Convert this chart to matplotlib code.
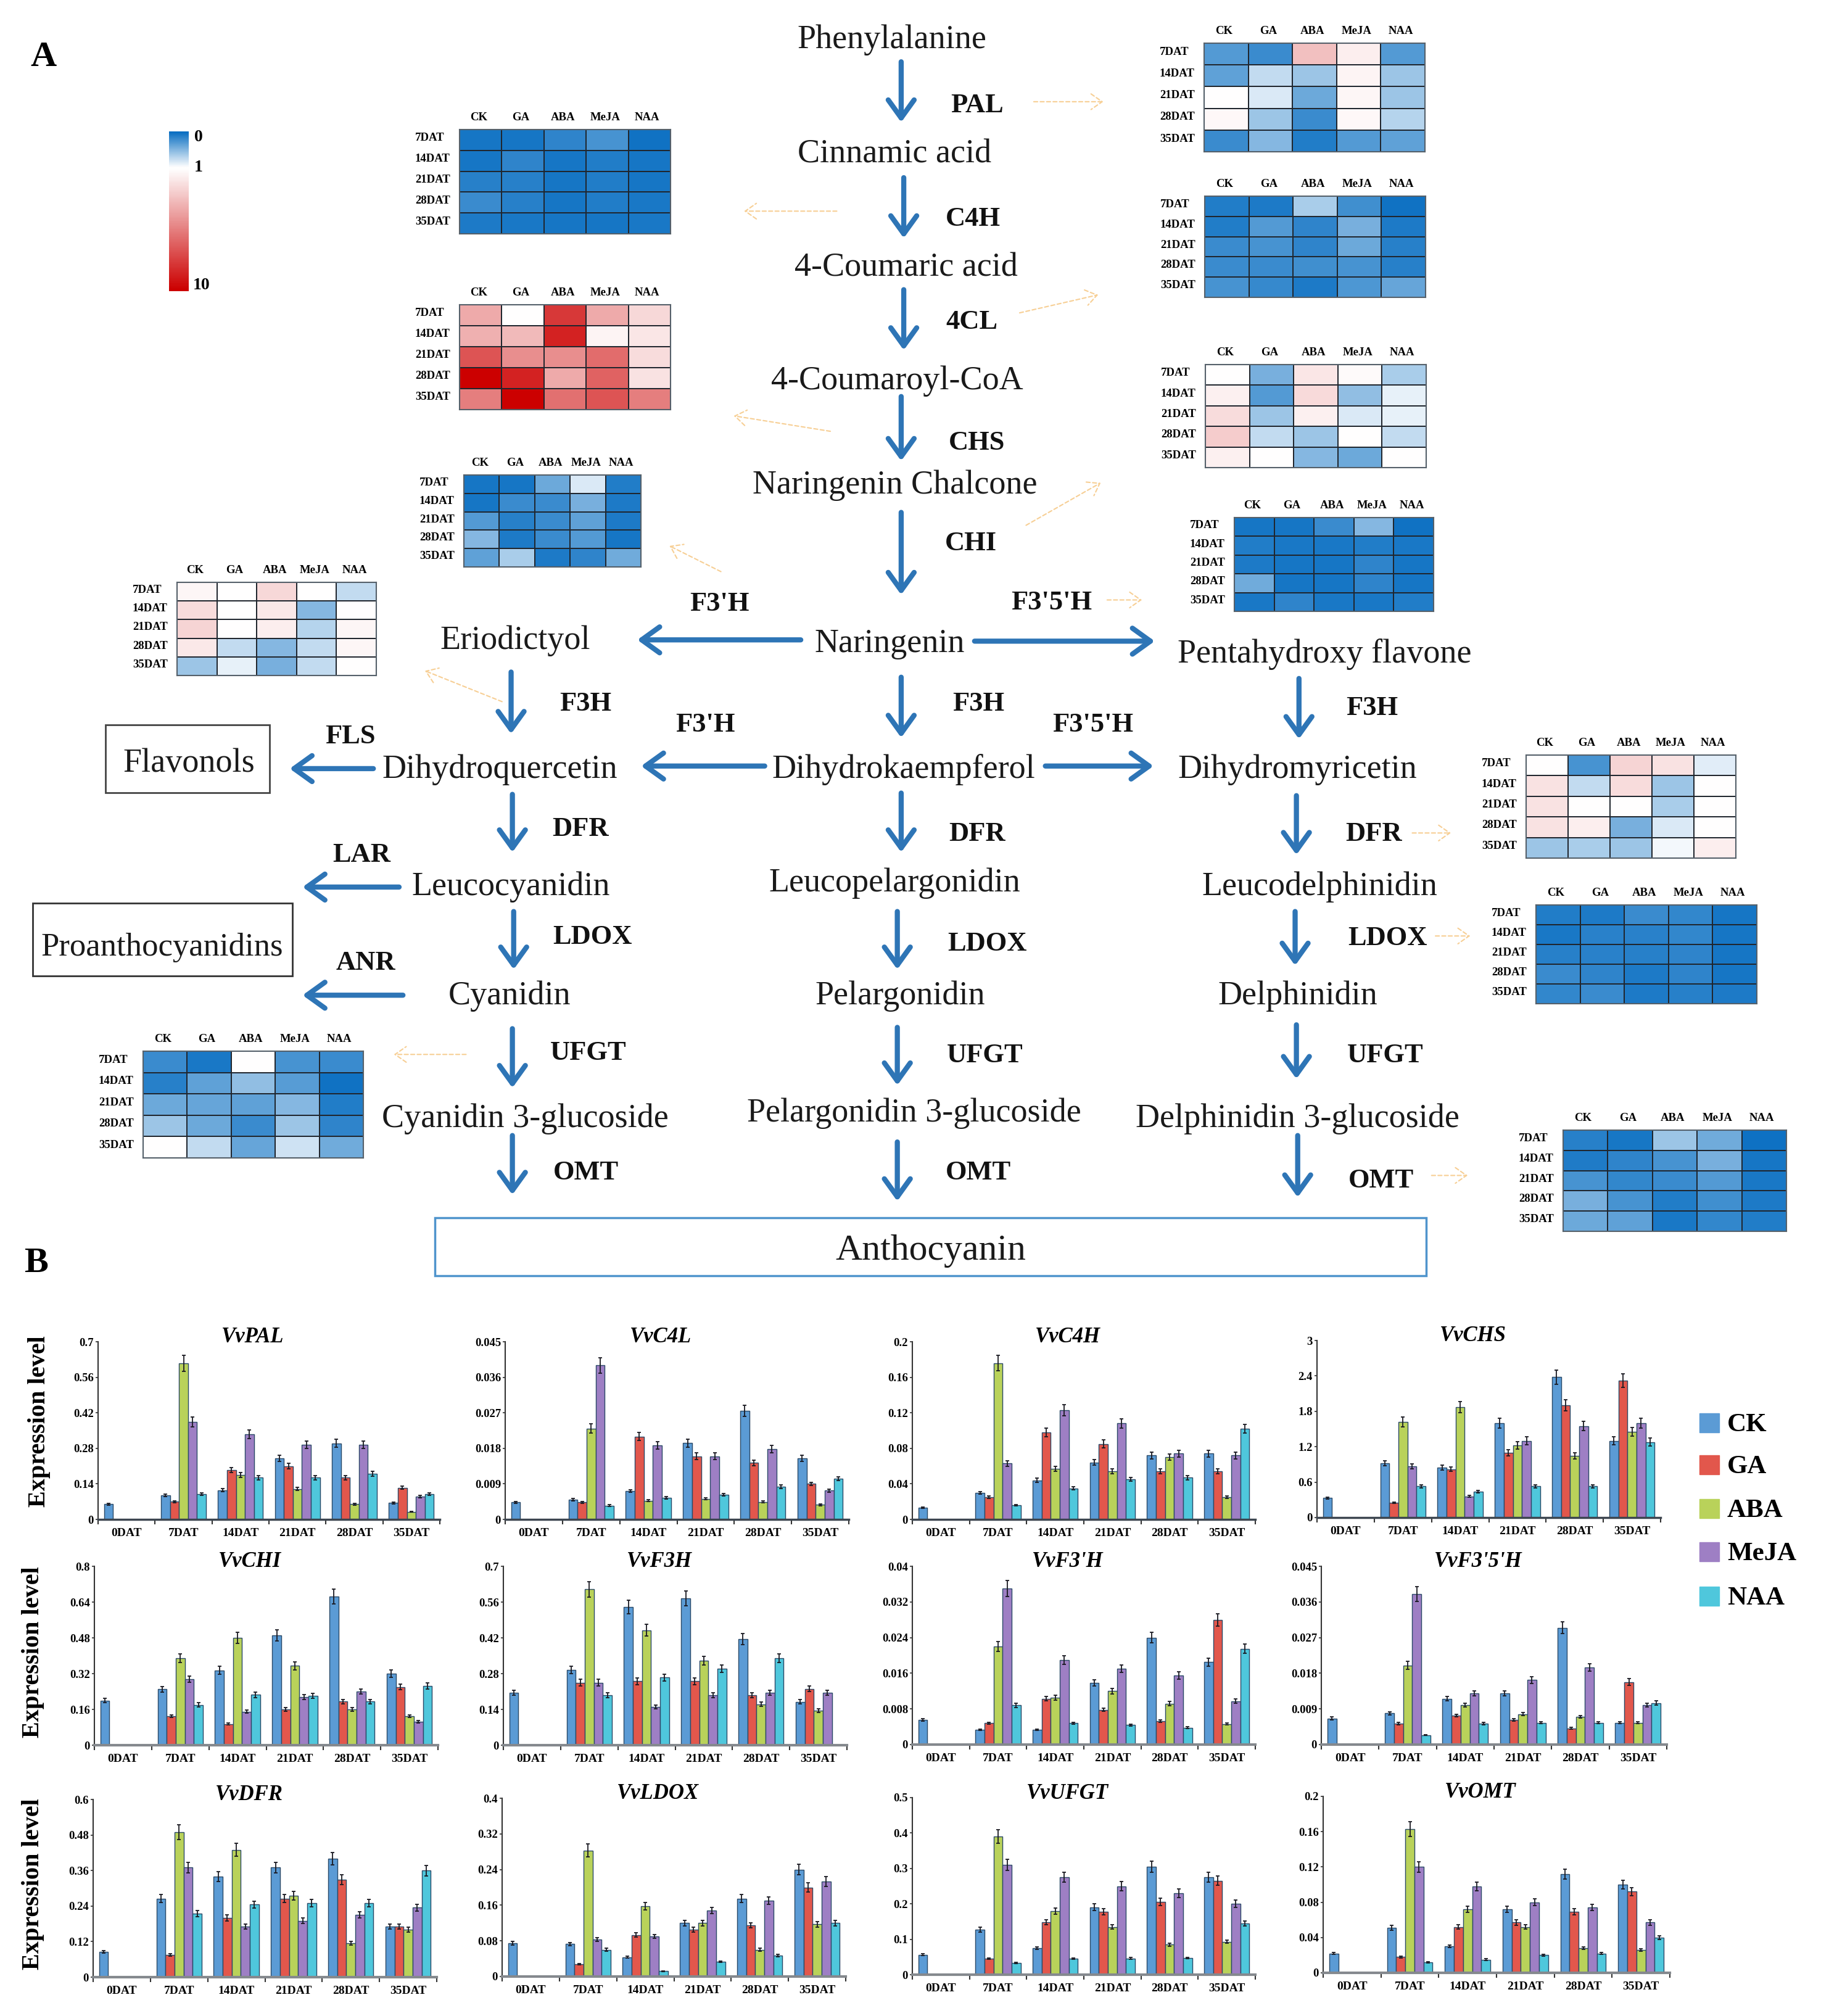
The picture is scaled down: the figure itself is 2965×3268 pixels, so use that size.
import numpy as np
import matplotlib
matplotlib.use('Agg')
import matplotlib.pyplot as plt
from matplotlib.colors import LinearSegmentedColormap, TwoSlopeNorm
from matplotlib.patches import Rectangle

plt.rcParams['font.family'] = ['Liberation Serif', 'DejaVu Serif']

W, H = 2965, 3268
S = 2.087  # layout below was measured on a view scaled by this
TEXT_DY = 4

treatments = ['CK', 'GA', 'ABA', 'MeJA', 'NAA']
days = ['0DAT', '7DAT', '14DAT', '21DAT', '28DAT', '35DAT']
heat_days = ['7DAT', '14DAT', '21DAT', '28DAT', '35DAT']
bar_colors = ['#5b9bd5', '#e2574c', '#b9d25a', '#9e7fc4', '#4fc7dc']

# expression level, one row per day, columns CK GA ABA MeJA NAA
vvpal = [[.06, 0, 0, 0, 0], [.095, .07, .615, .385, .10], [.115, .195, .175, .335, .165],
         [.24, .21, .12, .295, .165], [.30, .165, .06, .295, .18], [.065, .125, .03, .09, .10]]
vvc4l = [[.0043, 0, 0, 0, 0], [.0050, .0043, .023, .039, .0035], [.0072, .0210, .0047, .0188, .0055],
         [.0193, .0160, .0052, .0160, .0063], [.0275, .0143, .0044, .0178, .0083], [.0155, .0090, .0037, .0073, .0103]]
vvc4h = [[.013, 0, 0, 0, 0], [.030, .025, .176, .063, .016], [.044, .098, .057, .123, .035],
         [.064, .085, .054, .108, .045], [.072, .054, .070, .074, .047], [.074, .054, .025, .072, .102]]
vvchs = [[.33, 0, 0, 0, 0], [.92, .25, 1.62, .87, .53], [.85, .82, 1.87, .36, .44],
         [1.60, 1.10, 1.22, 1.30, .53], [2.38, 1.90, 1.05, 1.55, .53], [1.30, 2.32, 1.45, 1.60, 1.28]]
vvchi = [[.20, 0, 0, 0, 0], [.25, .13, .39, .295, .18], [.335, .095, .48, .15, .225],
         [.49, .16, .355, .215, .22], [.665, .195, .16, .24, .195], [.32, .26, .13, .105, .265]]
vvf3h = [[.205, 0, 0, 0, 0], [.295, .245, .61, .245, .195], [.54, .25, .45, .15, .265],
         [.575, .25, .33, .195, .30], [.415, .195, .16, .205, .34], [.17, .22, .135, .205, 0]]
vvf3ph = [[.0055, 0, 0, 0, 0], [.0033, .0048, .022, .035, .0088], [.0033, .0103, .0105, .0190, .0048],
          [.0139, .0078, .0120, .0170, .0044], [.0240, .0053, .0092, .0155, .0038], [.0185, .0280, .0046, .0097, .0215]]
vvf35h = [[.0066, 0, 0, 0, 0], [.0079, .0053, .020, .038, .0024], [.0116, .0073, .0100, .0129, .0053],
          [.0129, .0063, .0077, .0163, .0055], [.0295, .0041, .0070, .0195, .0055], [.0055, .0158, .0055, .0100, .0105]]
vvdfr = [[.085, 0, 0, 0, 0], [.265, .075, .49, .37, .215], [.34, .20, .43, .17, .245],
         [.37, .265, .275, .19, .25], [.40, .33, .115, .21, .25], [.17, .17, .16, .235, .36]]
vvldox = [[.075, 0, 0, 0, 0], [.073, .028, .283, .083, .06], [.043, .093, .158, .09, .012],
          [.12, .105, .12, .148, .033], [.175, .115, .06, .17, .047], [.24, .20, .117, .213, .12]]
vvufgt = [[.056, 0, 0, 0, 0], [.127, .045, .39, .31, .033], [.075, .148, .18, .275, .045],
          [.19, .178, .135, .25, .046], [.305, .205, .085, .23, .047], [.275, .265, .093, .20, .145]]
vvomt = [[.022, 0, 0, 0, 0], [.051, .018, .163, .12, .012], [.03, .052, .072, .098, .015],
         [.072, .057, .052, .08, .02], [.112, .069, .028, .074, .022], [.10, .092, .026, .057, .04]]

gene_names = ['VvPAL', 'VvC4L', 'VvC4H', 'VvCHS', 'VvCHI', 'VvF3H', "VvF3'H", "VvF3'5'H",
              'VvDFR', 'VvLDOX', 'VvUFGT', 'VvOMT']
gene_values = [vvpal, vvc4l, vvc4h, vvchs, vvchi, vvf3h, vvf3ph, vvf35h, vvdfr, vvldox, vvufgt, vvomt]
gene_ticks = [['0', '0.14', '0.28', '0.42', '0.56', '0.7'], ['0', '0.009', '0.018', '0.027', '0.036', '0.045'],
              ['0', '0.04', '0.08', '0.12', '0.16', '0.2'], ['0', '0.6', '1.2', '1.8', '2.4', '3'],
              ['0', '0.16', '0.32', '0.48', '0.64', '0.8'], ['0', '0.14', '0.28', '0.42', '0.56', '0.7'],
              ['0', '0.008', '0.016', '0.024', '0.032', '0.04'], ['0', '0.009', '0.018', '0.027', '0.036', '0.045'],
              ['0', '0.12', '0.24', '0.36', '0.48', '0.6'], ['0', '0.08', '0.16', '0.24', '0.32', '0.4'],
              ['0', '0.1', '0.2', '0.3', '0.4', '0.5'], ['0', '0.04', '0.08', '0.12', '0.16', '0.2']]
err_frac = 0.05

# pixel boxes of the bar panels: left, right, top tick, zero line
panel_boxes = [(159, 713, 2175, 2463), (819, 1376, 2175, 2463), (1479, 2035, 2175, 2463), (2135, 2692, 2173, 2460),
               (153, 710, 2539, 2829), (816, 1373, 2539, 2829), (1479, 2035, 2539, 2828), (2142, 2702, 2539, 2828),
               (151, 708, 2917, 3205), (814, 1371, 2915, 3204), (1479, 2035, 2914, 3201), (2145, 2707, 2912, 3198)]

# heat maps, fold change, rows 7..35DAT, columns CK GA ABA MeJA NAA
hm_c4h = [[.05, .05, .15, .25, .03], [.05, .15, .05, .10, .05], [.12, .12, .05, .10, .05],
          [.2, .12, .05, .10, .07], [.08, .07, .05, .05, .07]]
hm_chs = [[4, 1, 8, 4, 2.4], [3.8, 3.4, 8.8, 1.4, 1.9], [7, 5, 5, 6.2, 2.2],
          [10, 8.8, 4, 6.5, 2], [5.5, 10, 6, 7, 5.5]]
hm_f3ph = [[.05, .05, .4, .85, .1], [.05, .2, .2, .45, .08], [.3, .12, .2, .35, .08],
           [.5, .08, .2, .3, .05], [.35, .65, .08, .15, .42]]
hm_f3h = [[1.3, 1, 2.4, 1, .75], [2.2, 1, 1.8, .5, 1], [2.5, 1, 1.6, .7, 1.3],
          [1.8, .75, .5, .75, 1.3], [.6, .9, .45, .75, 1]]
hm_pal = [[.3, .2, 3.2, 1.6, .3], [.35, .75, .6, 1.4, .6], [1, .85, .4, 1.3, .6],
          [1.25, .6, .2, 1.25, .7], [.2, .5, .1, .3, .35]]
hm_4cl = [[.1, .08, .65, .22, .03], [.1, .3, .15, .45, .08], [.2, .25, .15, .4, .12],
          [.2, .2, .22, .25, .12], [.25, .18, .08, .28, .38]]
hm_chi = [[1, .45, 1.9, 1.2, .65], [1.5, .3, 2.3, .55, .9], [2.2, .6, 1.5, .85, .9],
          [2.8, .75, .6, 1, .75], [1.5, 1, .5, .4, 1]]
hm_f35h = [[.05, .05, .2, .5, .03], [.1, .07, .07, .1, .07], [.08, .05, .05, .15, .05],
           [.42, .05, .05, .15, .05], [.07, .15, .07, .07, .1]]
hm_dfr = [[1, .25, 2.5, 2, .88], [2, .75, 2.2, .6, 1], [2, 1, 1, .65, 1],
          [2, 1.6, .45, .85, 1], [.6, .65, .6, .95, 1.6]]
hm_ldox = [[.1, .08, .2, .17, .05], [.07, .13, .13, .17, .05], [.12, .13, .12, .15, .05],
           [.2, .15, .08, .15, .05], [.17, .2, .08, .12, .08]]
hm_omt = [[.12, .06, .6, .42, .02], [.09, .15, .25, .45, .05], [.25, .17, .2, .3, .07],
          [.45, .25, .1, .22, .08], [.4, .35, .07, .17, .1]]
hm_ufgt = [[.2, .07, 1, .25, .2], [.12, .35, .55, .32, .03], [.4, .38, .35, .5, .1],
           [.6, .4, .2, .6, .15], [1, .75, .38, .8, .42]]
heat_values = [hm_c4h, hm_chs, hm_f3ph, hm_f3h, hm_pal, hm_4cl, hm_chi, hm_f35h, hm_dfr, hm_ldox, hm_omt, hm_ufgt]
heat_boxes = [(745, 1087, 210, 379), (745, 1087, 494, 664), (752, 1039, 770, 919), (287, 610, 944, 1095),
              (1952, 2310, 70, 246), (1953, 2311, 318, 482), (1954, 2312, 591, 758), (2001, 2324, 839, 991),
              (2474, 2814, 1224, 1391), (2490, 2848, 1467, 1627), (2534, 2896, 1832, 1996), (232, 589, 1704, 1877)]

metabolites = ['Phenylalanine', 'Cinnamic acid', '4-Coumaric acid', '4-Coumaroyl-CoA', 'Naringenin Chalcone',
               'Naringenin', 'Eriodictyol', 'Pentahydroxy flavone', 'Dihydroquercetin', 'Dihydrokaempferol',
               'Dihydromyricetin', 'Leucocyanidin', 'Leucopelargonidin', 'Leucodelphinidin', 'Cyanidin',
               'Pelargonidin', 'Delphinidin', 'Cyanidin 3-glucoside', 'Pelargonidin 3-glucoside',
               'Delphinidin 3-glucoside', 'Anthocyanin', 'Flavonols', 'Proanthocyanidins']
metabolite_xy = [(693, 29), (695, 118), (704, 206), (697, 294), (695, 375), (691, 498), (400, 496), (1029, 506),
                 (388, 596), (702, 596), (1008, 596), (397, 687), (695, 684), (1025, 687), (396, 772), (699, 772),
                 (1008, 772), (408, 867), (710, 863), (1008, 867), (723, 970), (147, 591), (126, 734)]
metabolite_size = {'Anthocyanin': 43, 'Proanthocyanidins': 38}
enzymes = ['PAL', 'C4H', '4CL', 'CHS', 'CHI', "F3'H", "F3'5'H", 'F3H', 'F3H', 'F3H', 'FLS', "F3'H", "F3'5'H",
           'DFR', 'DFR', 'DFR', 'LAR', 'LDOX', 'LDOX', 'LDOX', 'ANR', 'UFGT', 'UFGT', 'UFGT', 'OMT', 'OMT', 'OMT']
enzyme_xy = [(759, 80), (756, 168), (755, 248), (759, 342), (754, 420), (559, 467), (817, 466), (455, 545), (760, 545),
             (1066, 548), (272, 570), (548, 561), (849, 561), (451, 642), (759, 646), (1067, 646), (281, 662), (460, 726),
             (767, 731), (1078, 727), (284, 746), (457, 816), (765, 818), (1076, 818), (455, 909), (760, 909), (1073, 915)]
blue_arrows = [((700, 48), (700, 95)), ((702, 138), (702, 185)), ((702, 225), (702, 272)), ((700, 308), (700, 358)),
               ((700, 398), (700, 462)), ((700, 526), (700, 573)), ((397, 522), (397, 570)), ((1009, 527), (1009, 574)),
               ((398, 617), (398, 662)), ((700, 616), (700, 662)), ((1007, 618), (1007, 664)), ((399, 708), (399, 753)),
               ((697, 708), (697, 753)), ((1006, 708), (1006, 750)), ((398, 799), (398, 845)), ((697, 798), (697, 843)),
               ((1007, 796), (1007, 838)), ((398, 882), (398, 928)), ((697, 887), (697, 933)), ((1008, 882), (1008, 930)),
               ((622, 497), (495, 497)), ((594, 595), (498, 595)), ((290, 597), (225, 597)), ((310, 689), (235, 689)),
               ((313, 773), (235, 773)), ((757, 498), (897, 498)), ((812, 595), (896, 595))]
orange_arrows = [((803, 79), (857, 79)), ((650, 164), (578, 164)), ((792, 243), (853, 229)), ((645, 335), (570, 323)),
                 ((797, 408), (855, 375)), ((560, 444), (520, 424)), ((860, 466), (887, 466)), ((390, 545), (330, 521)),
                 ((1097, 647), (1127, 647)), ((1115, 727), (1142, 727)), ((362, 819), (306, 819)), ((1112, 913), (1140, 913))]

fig = plt.figure(figsize=(W / 100, H / 100), dpi=100)
bg = fig.add_axes([0, 0, 1, 1])
bg.set_xlim(0, W)
bg.set_ylim(H, 0)
bg.axis('off')


def inset(x0, x1, y0, y1):
    return fig.add_axes([x0 / W, 1 - y1 / H, (x1 - x0) / W, (y1 - y0) / H])


# pathway
for name, (x, y) in zip(metabolites, metabolite_xy):
    bg.text(x * S, y * S + TEXT_DY, name, fontsize=metabolite_size.get(name, 39), ha='center', va='center', color='#1a1a1a')
for name, (x, y) in zip(enzymes, enzyme_xy):
    bg.text(x * S, y * S + TEXT_DY, name, fontsize=32, fontweight='bold', ha='center', va='center', color='#111111')
for a, b in blue_arrows:
    bg.annotate('', xy=(b[0] * S, b[1] * S), xytext=(a[0] * S, a[1] * S),
                arrowprops=dict(arrowstyle='->,head_length=0.5,head_width=0.36', lw=6, color='#2e75b6',
                                mutation_scale=42, shrinkA=0, shrinkB=0))
for a, b in orange_arrows:
    bg.annotate('', xy=(b[0] * S, b[1] * S), xytext=(a[0] * S, a[1] * S),
                arrowprops=dict(arrowstyle='->,head_length=0.5,head_width=0.35', lw=1.5, color='#f7cf95',
                                linestyle=(0, (3, 2)), mutation_scale=26, shrinkA=0, shrinkB=0))

bg.add_patch(Rectangle((171, 1175), 266, 110, fill=False, ec='#444444', lw=2))
bg.add_patch(Rectangle((53, 1464), 421, 118, fill=False, ec='#333333', lw=2))
bg.add_patch(Rectangle((705, 1974), 1607, 94, fill=False, ec='#4f94cc', lw=2.5))
bg.text(70, 89 + TEXT_DY, 'A', fontsize=42, fontweight='bold', ha='center', va='center')
bg.text(59, 2044 + TEXT_DY, 'B', fontsize=42, fontweight='bold', ha='center', va='center')

# heat maps
cmap = LinearSegmentedColormap.from_list('fold', ['#0a6fc2', '#ffffff', '#cc0000'])
norm = TwoSlopeNorm(vmin=0, vcenter=1, vmax=10)
for values, (x0, x1, y0, y1) in zip(heat_values, heat_boxes):
    ax = inset(x0, x1, y0, y1)
    ax.pcolormesh(np.array(values), cmap=cmap, norm=norm, edgecolors='#20262e', linewidth=1.4)
    ax.invert_yaxis()
    ax.set_xticks(np.arange(5) + 0.45)
    ax.set_xticklabels(treatments, fontsize=13.5, fontweight='bold')
    ax.set_yticks(np.arange(5) + 0.35)
    ax.set_yticklabels(heat_days, fontsize=13.5, fontweight='bold', ha='left')
    ax.xaxis.tick_top()
    ax.tick_params(axis='x', length=0, pad=8)
    ax.tick_params(axis='y', length=0, pad=52)
    for sp in ax.spines.values():
        sp.set_color('#55606a')
        sp.set_linewidth(1.5)

# colour key: 0-1 takes about a quarter of the bar
cax = inset(274, 306, 213, 472)
key = np.concatenate([np.linspace(0, 1, 23), np.linspace(1, 10, 77)])
cax.imshow(key[:, None], cmap=cmap, norm=norm, aspect='auto')
cax.axis('off')
for label, ky, kx in zip(['0', '1', '10'], [222, 271, 462], [322, 322, 327]):
    bg.text(kx, ky, label, fontsize=20, fontweight='bold', ha='center', va='center')

# bar panels
bar_w = 0.158
for n, (name, values, ticks, (x0, x1, y0, y1)) in enumerate(zip(gene_names, gene_values, gene_ticks, panel_boxes)):
    ax = inset(x0, x1, y0, y1)
    values = np.array(values)
    top = float(ticks[-1])
    pos = np.arange(len(days)) + 0.5
    for j, tr in enumerate(treatments):
        xs = pos + (j - 2) * bar_w
        ax.bar(xs, values[:, j], width=bar_w, color=bar_colors[j], edgecolor='#2b4a68', linewidth=1.0)
        keep = values[:, j] > 0
        ax.errorbar(xs[keep], values[keep, j], yerr=values[keep, j] * err_frac, fmt='none',
                    ecolor='#1a1a22', elinewidth=1.3, capsize=2.5, capthick=1.3)
    ax.set_xlim(0, 6)
    ax.set_ylim(0, top)
    ax.set_yticks(np.linspace(0, top, 6))
    ax.set_yticklabels(ticks, fontsize=13.5, fontweight='bold')
    ax.set_xticks(np.arange(7))
    ax.set_xticklabels([])
    ax.set_xticks(pos, minor=True)
    ax.set_xticklabels(days, minor=True, fontsize=14, fontweight='bold')
    ax.tick_params(axis='x', which='minor', length=0, pad=10)
    ax.tick_params(axis='x', which='major', length=6, width=1.5, color='#333333')
    ax.tick_params(axis='y', length=3, width=1.2, pad=2, color='#333333')
    ax.spines['top'].set_visible(False)
    ax.spines['right'].set_visible(False)
    ax.spines['left'].set_linewidth(1.5)
    ax.spines['left'].set_color('#333333')
    # the baseline is dark in the first row and a thicker grey below it
    ax.spines['bottom'].set_linewidth(2.5 if n < 4 else 3)
    ax.spines['bottom'].set_color('#3d4650' if n < 4 else '#85898e')
    ax.patch.set_alpha(0)
    bg.text((x0 + x1) / 2 - 26, y0 - 7, name, fontsize=25, fontweight='bold', style='italic', ha='center', va='center')

for ylx, yly in [(63, 2304), (54, 2678), (54, 3054)]:
    bg.text(ylx, yly, 'Expression level', fontsize=29, fontweight='bold', rotation=90, ha='center', va='center')

# legend
legend_y = [2291, 2359, 2430, 2500, 2572]
for tr, col, ly in zip(treatments, bar_colors, legend_y):
    bg.add_patch(Rectangle((2755, ly), 32, 31, color=col))
    bg.text(2800, ly + 15 + TEXT_DY, tr, fontsize=31, fontweight='bold', ha='left', va='center')

fig.savefig('out.png', dpi=100)
